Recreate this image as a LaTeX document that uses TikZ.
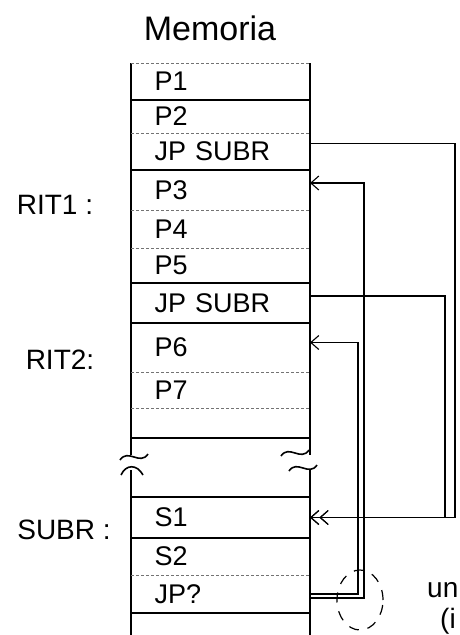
\documentclass[tikz,border=0pt]{standalone}
\usepackage{fontspec}
\setmainfont{Liberation Sans}
\usetikzlibrary{shapes.geometric, arrows.meta, positioning}
\tikzset{
  cell/.style={rectangle, minimum width=179pt, text width=132pt, align=left,
               inner xsep=0pt, inner ysep=0pt, outer sep=0pt, font=\fontsize{27}{29}\selectfont},
  side/.style={line width=1.3pt},
  rowline/.style={line width=1.1pt},
  rowfaint/.style={line width=0.7pt, black!55, dash pattern=on 3pt off 2pt},
  lbl/.style={font=\fontsize{28}{30}\selectfont},
  call/.style={line width=1.1pt, -{Straight Barb[length=8pt,width=14pt]Straight Barb[length=8pt,width=14pt]}},
  ret/.style={line width=1.1pt, -{Straight Barb[length=8pt,width=14pt]}},
  brk/.style={line width=1.6pt},
}
\begin{document}
\begin{tikzpicture}[x=1pt, y=-1pt, node distance=0pt]
  \useasboundingbox (0,0) rectangle (459,635);
  \node[font=\fontsize{34}{36}\selectfont] (title) at (210,28) {Memoria};

  \node[cell, minimum height=37pt] (p1) at (220.5,81.5) {P1};
  \node[cell, minimum height=33pt, below=of p1]  (p2)  {P2};
  \node[cell, minimum height=37pt, below=of p2]  (jp1) {JP SUBR};
  \node[cell, minimum height=40pt, below=of jp1] (p3)  {P3};
  \node[cell, minimum height=38pt, below=of p3]  (p4)  {P4};
  \node[cell, minimum height=35pt, below=of p4]  (p5)  {P5};
  \node[cell, minimum height=40pt, below=of p5]  (jp2) {JP SUBR};
  \node[cell, minimum height=49pt, below=of jp2] (p6)  {P6};
  \node[cell, minimum height=36pt, below=of p6]  (p7)  {P7};
  \node[cell, minimum height=30pt, below=of p7]  (e1)  {};
  \node[cell, minimum height=27pt] (e2) at (220.5,483.5) {};
  \node[cell, minimum height=41pt, below=of e2]  (s1)  {S1};
  \node[cell, minimum height=37pt, below=of s1]  (s2)  {S2};
  \node[cell, minimum height=38pt, below=of s2]  (jpq) {JP?};

  \node[lbl] (rit1) at (55,205) {RIT1 :};
  \node[lbl] (rit2) at (60,360) {RIT2:};
  \node[lbl] (subr) at (64,530) {SUBR :};

  \draw[side] (p1.north west) -- ([yshift=-17pt]e1.south west);
  \draw[side] (p1.north east) -- ([yshift=-17pt]e1.south east);
  \draw[side] (e2.north west) -- ++(0,165);
  \draw[side] (e2.north east) -- ++(0,165);
  \draw[rowfaint] (p1.north west) -- (p1.north east);
  \foreach \c in {p1,jp1,p5,jp2,e1,e2,s1,jpq}
    \draw[rowline] (\c.south west) -- (\c.south east);
  \foreach \c in {p2,p3,p4,p6,p7,s2}
    \draw[rowfaint] (\c.south west) -- (\c.south east);

  \foreach \bx/\by in {134/457, 295/453, 303/468}
    \draw[brk] (\bx-14,\by+3) .. controls (\bx-6,\by-9) and (\bx+6,\by+9) .. (\bx+14,\by-3);
  \draw[brk] (121,475) .. controls (126,464) and (137,464) .. (143,475);

  \draw[call] ([yshift=8pt]jp1.east) -- ++(145,0) |- (s1.east);
  \draw[call] ([yshift=7pt]jp2.east) -- ++(135,0) |- (s1.east);
  \draw[ret] (jpq.east) -- ++(48,0) |- ([yshift=5pt]p6.east);
  \draw[ret] ([yshift=-4pt]jpq.east) -- ++(54,0) |- ([yshift=7pt]p3.east);

  \node[draw, ellipse, line width=1.2pt, dash pattern=on 10pt off 9pt,
        minimum width=46pt, minimum height=60pt] (doubt) at (360,600) {};
  \node[lbl, anchor=west, inner sep=0pt] (un) at (427,590) {un};
  \node[lbl, anchor=west, inner sep=0pt] (ci) at (440,621) {(i};
\end{tikzpicture}
\end{document}
